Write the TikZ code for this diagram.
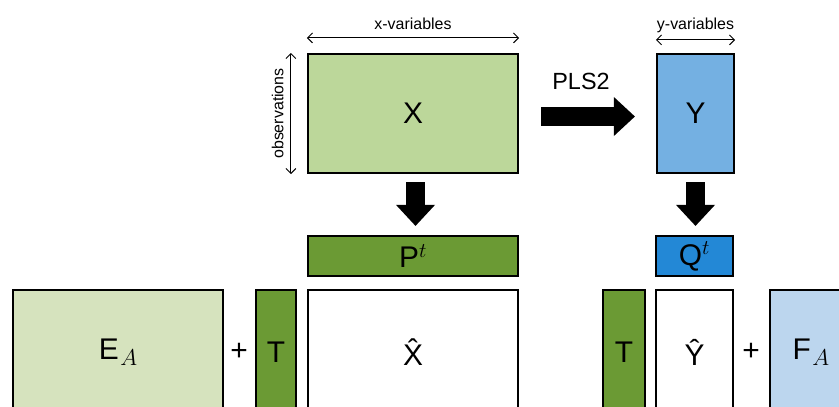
\RequirePackage{fix-cm}
\documentclass[tikz,border=0pt]{standalone}
\usepackage{fontspec}
\setmainfont{Liberation Sans}
\usetikzlibrary{arrows.meta}

\definecolor{xgreen}{HTML}{BCD79A}
\definecolor{egreen}{HTML}{D6E3BE}
\definecolor{pgreen}{HTML}{6B9A34}
\definecolor{yblue}{HTML}{74B0E2}
\definecolor{qblue}{HTML}{2388D6}
\definecolor{fblue}{HTML}{BCD6EE}

\newcommand{\lowsub}[1]{\kern1.5bp\raisebox{-6bp}{\fontsize{23}{27}\selectfont$#1$}}

\tikzset{
  mat/.style={draw=black, line width=2.2bp, inner sep=0pt,
    font=\fontsize{30}{36}\selectfont},
  span/.style={<->, line width=0.9bp,
    >={Straight Barb[length=5bp,width=10bp]}},
  spanlabel/.style={inner sep=0pt, font=\fontsize{16}{19}\selectfont},
  block/.style={line width=19bp,
    -{Triangle[width=39bp,length=21bp,line width=0pt]}},
}

\begin{document}
\begin{tikzpicture}[x=1bp,y=-1bp]
\path[use as bounding box] (0,0) rectangle (839,406);
\clip (0,0) rectangle (839,406);
% data blocks
\node[mat, fill=xgreen, minimum width=210bp, minimum height=119bp] (X) at (413,113.5) {X};
\node[mat, fill=yblue, minimum width=77bp, minimum height=119bp] (Y) at (695.5,113.5) {Y};
% loadings
\node[mat, fill=pgreen, minimum width=210bp, minimum height=40bp] (P) at (413,256) {P$^t$};
\node[mat, fill=qblue, minimum width=77bp, minimum height=40bp] (Q) at (694.5,256) {Q$^t$};
% decomposition
\node[mat, fill=egreen, minimum width=210bp, minimum height=124bp] (E) at (118,352) {E\lowsub{A}};
\node[mat, fill=pgreen, minimum width=40bp, minimum height=124bp] (TX) at (276,352) {T};
\node[mat, fill=white, minimum width=210bp, minimum height=124bp] (Xhat) at (413,352) {\^{X}};
\node[mat, fill=pgreen, minimum width=42bp, minimum height=124bp] (TY) at (624,352) {T};
\node[mat, fill=white, minimum width=77bp, minimum height=124bp] (Yhat) at (694.5,352) {\^{Y}};
\node[mat, fill=fblue, minimum width=82bp, minimum height=124bp] (F) at (811,352) {F\lowsub{A}};
\node[font=\fontsize{30}{36}\selectfont] (plusX) at (239,352) {+};
\node[font=\fontsize{30}{36}\selectfont] (plusY) at (751,352) {+};
% dimensions
\draw[span] ([yshift=15bp]X.north west) -- ([yshift=15bp]X.north east)
  node[midway, above=8bp, spanlabel] (xvar) {x-variables};
\draw[span] ([yshift=13bp]Y.north west) -- ([yshift=13bp]Y.north east)
  node[midway, above=6.5bp, spanlabel] (yvar) {y-variables};
\draw[span] ([xshift=-16bp]X.south west) -- ([xshift=-16bp]X.north west)
  node[midway, sloped, above=7bp, spanlabel] (obs) {observations};
% arrows
\draw[block, shorten <=22bp, shorten >=21bp] ([yshift=-3bp]X.east) -- ([yshift=-3bp]Y.west);
\node[anchor=base, font=\fontsize{23.5}{28}\selectfont] (pls) at (581,89) {PLS2};
\draw[block, shorten <=8bp, shorten >=9bp] ([xshift=2.5bp]X.south) -- ([xshift=2.5bp]P.north);
\draw[block, shorten <=8bp, shorten >=9bp] (Y.south) -- ([xshift=1bp]Q.north);
\end{tikzpicture}
\end{document}
